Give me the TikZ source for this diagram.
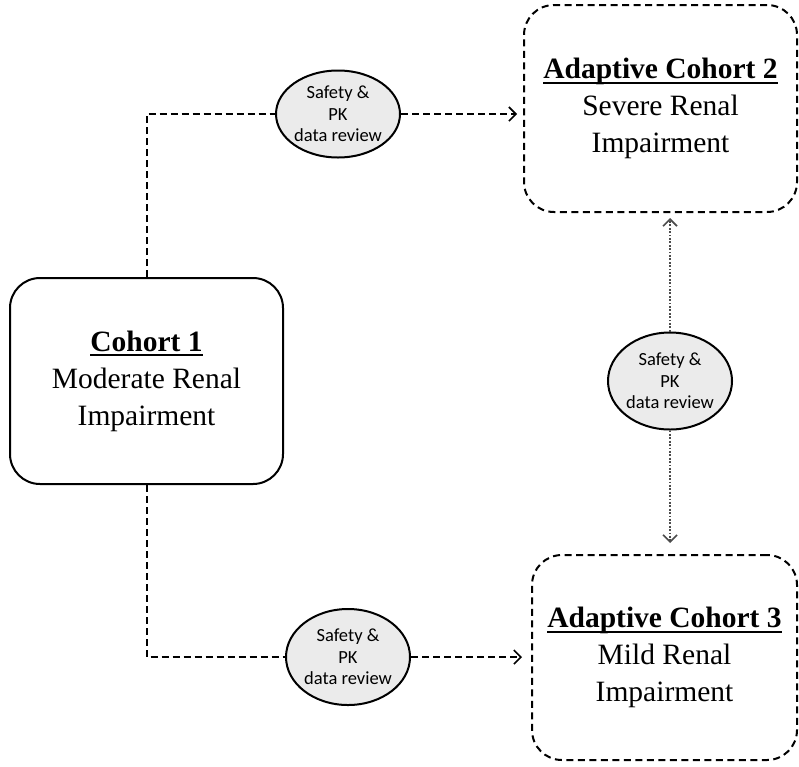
\documentclass[tikz,border=0pt]{standalone}
\usepackage{fontspec}
\setmainfont{Liberation Serif}
\newfontfamily\circfont{Carlito}
\usetikzlibrary{arrows.meta,shapes.geometric}
\newcommand\ulbold[1]{{\setbox0\hbox{\bfseries #1}\rlap{\rule[-5pt]{\wd0}{1.8pt}}\box0}}
\tikzset{
  cohort/.style={draw=black,line width=2pt,rounded corners=30pt,align=center,
    font=\fontsize{29.5}{37}\selectfont,inner sep=0pt},
  solidbox/.style={cohort},
  dashbox/.style={cohort,dash pattern=on 7pt off 4.5pt},
  review/.style={ellipse,draw=black,line width=2pt,fill=black!8,align=center,
    font=\circfont\fontsize{18.5}{21.5}\selectfont,inner sep=0pt},
  dashline/.style={line width=2pt,dash pattern=on 7pt off 4pt},
  dotline/.style={line width=1.4pt,black!70,dash pattern=on 1.8pt off 1.6pt},
  tip/.style={-{Straight Barb[length=7pt,width=14pt,line width=1.6pt]}}
}
\begin{document}
\begin{tikzpicture}[x=1pt,y=-1pt]
\useasboundingbox[fill=white] (0,0) rectangle (799,766);
\node[solidbox,minimum width=273pt,minimum height=206pt] (b1) at (146.5,381)
  {\ulbold{Cohort 1}\\Moderate Renal\\Impairment};
\node[dashbox,minimum width=273pt,minimum height=207pt] (b2) at (660.5,108.5)
  {\ulbold{Adaptive Cohort 2}\\Severe Renal\\Impairment};
\node[dashbox,minimum width=265pt,minimum height=205pt] (b3) at (664.5,657.5)
  {\ulbold{Adaptive Cohort 3}\\Mild Renal\\Impairment};
\node[review,minimum width=109pt,minimum height=87pt] (c1) at (338,114)
  {Safety \&\\PK\\data review};
\node[review,minimum width=111pt,minimum height=97pt] (c2) at (670,381)
  {Safety \&\\PK\\data review};
\node[review,minimum width=111pt,minimum height=96pt] (c3) at (348,657)
  {Safety \&\\PK\\data review};
\draw[dashline] (b1.north) |- (c1.west);
\draw[dashline,tip,shorten >=6pt] (c1.east) -- (c1.east -| b2.west);
\draw[dashline] (b1.south) |- (c3.west);
\draw[dashline,tip,shorten >=9pt] (c3.east) -- (c3.east -| b3.west);
\draw[dotline,tip,shorten >=5pt] (c2.north) -- (c2.north |- b2.south);
\draw[dotline,tip,shorten >=11pt] (c2.south) -- (c2.south |- b3.north);
\end{tikzpicture}
\end{document}
